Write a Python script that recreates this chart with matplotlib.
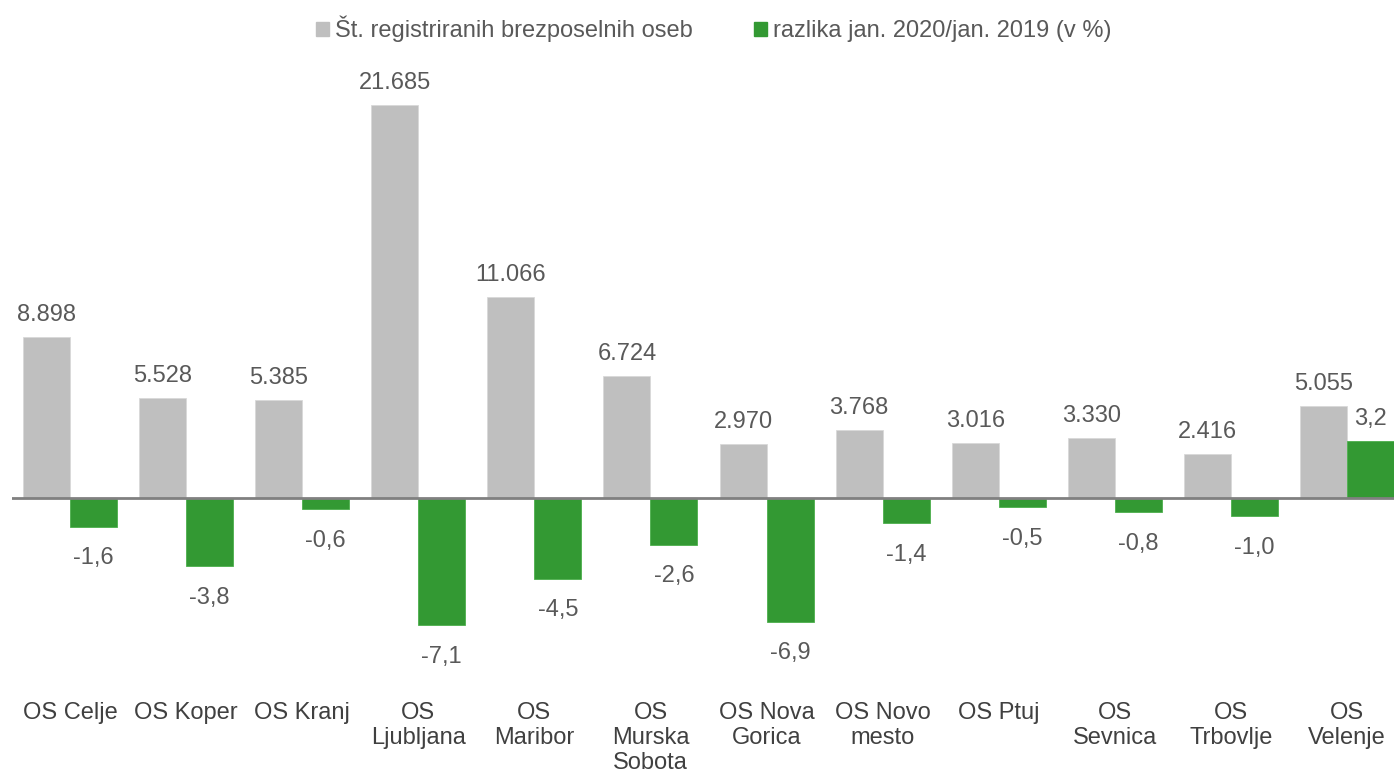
import numpy as np
import matplotlib.pyplot as plt
from matplotlib.patches import Patch

plt.rcParams['font.family'] = ['Liberation Sans', 'DejaVu Sans']

# Data
offices = ["OS Celje", "OS Koper", "OS Kranj", "OS\nLjubljana", "OS\nMaribor",
           "OS\nMurska\nSobota", "OS Nova\nGorica", "OS Novo\nmesto", "OS Ptuj",
           "OS\nSevnica", "OS\nTrbovlje", "OS\nVelenje"]
unemployed = [8898, 5528, 5385, 21685, 11066, 6724, 2970, 3768, 3016, 3330, 2416, 5055]
change_pct = [-1.6, -3.8, -0.6, -7.1, -4.5, -2.6, -6.9, -1.4, -0.5, -0.8, -1.0, 3.2]

legend_labels = ["Št. registriranih brezposelnih oseb", "razlika jan. 2020/jan. 2019 (v %)"]

gray = "#BFBFBF"
green = "#339933"
txt = "#595959"
fs = 17

W, H = 1394, 773
fig = plt.figure(figsize=(W / 100, H / 100), dpi=100)

# axes spans px 80..660 vertically, zero at px 498
top_px, bot_px, zero_px = 80, 660, 498
ax = fig.add_axes([12 / W, (H - bot_px) / H, 1393 / W, (bot_px - top_px) / H])
ax2 = ax.twinx()

g_scale = 21685 / 393.0   # units per px
p_scale = 1 / 17.9
ax.set_ylim(-(bot_px - zero_px) * g_scale, (zero_px - top_px) * g_scale)
ax2.set_ylim(-(bot_px - zero_px) * p_scale, (zero_px - top_px) * p_scale)

x = np.arange(len(offices))
w = 0.405
ax.bar(x - w / 2, unemployed, width=w, color=gray, edgecolor="#D9D9D9", linewidth=0.6, zorder=2)
ax2.bar(x + w / 2, change_pct, width=w, color=green, edgecolor="#4CAF4C", linewidth=0.6, zorder=2)

for xi, v in zip(x, unemployed):
    ax.annotate(f"{v:,}".replace(",", "."), (xi - w / 2, v), xytext=(0, 8),
                textcoords="offset points", ha="center", va="bottom", fontsize=fs, color=txt)
for xi, v in zip(x, change_pct):
    s = f"{v:.1f}".replace(".", ",")
    if v < 0:
        ax2.annotate(s, (xi + w / 2, v), xytext=(0, -15), textcoords="offset points",
                     ha="center", va="top", fontsize=fs, color=txt)
    else:
        ax2.annotate(s, (xi + w / 2, v), xytext=(0, 8), textcoords="offset points",
                     ha="center", va="bottom", fontsize=fs, color=txt)

ax2.axhline(0, color="#808080", lw=2, zorder=3)

ax.set_xlim(-0.5, len(offices) - 0.5)
ax.set_xticks(x)
ax.set_xticklabels(offices, fontsize=fs, color="#404040", linespacing=1.2)
ax.tick_params(axis="x", length=0, pad=30)
for a in (ax, ax2):
    a.set_yticks([])
    for sp in a.spines.values():
        sp.set_visible(False)

handles = [Patch(color=gray), Patch(color=green)]
fig.legend(handles, legend_labels, loc="center", bbox_to_anchor=(714 / W, 1 - 29 / H),
           ncol=2, frameon=False, fontsize=fs, handlelength=0.55, handleheight=0.55,
           handletextpad=0.25, columnspacing=2.6, labelcolor=txt)

fig.savefig("out.png", dpi=100)
